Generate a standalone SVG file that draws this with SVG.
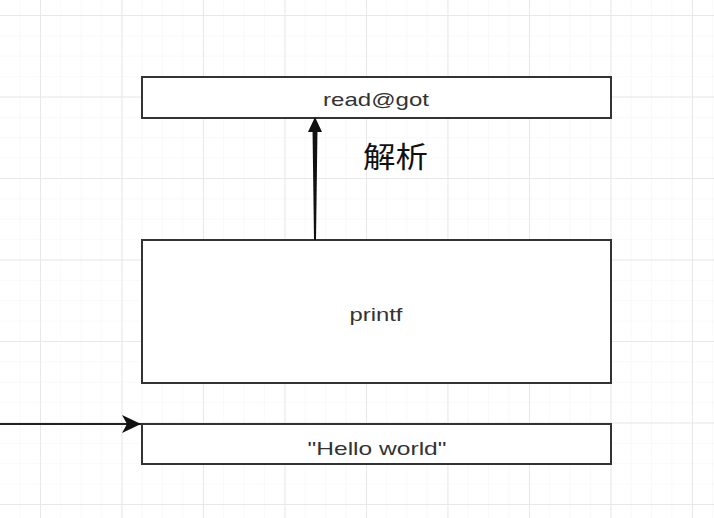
<svg xmlns="http://www.w3.org/2000/svg" width="714" height="518" viewBox="0 0 714 518">
<defs>
<pattern id="minor" x="-1" y="-5.4" width="20.375" height="20.375" patternUnits="userSpaceOnUse">
<path d="M 20.375 0 L 0 0 0 20.375" fill="none" stroke="#f3f3f3" stroke-width="1"/>
</pattern>
<pattern id="major" x="-41.5" y="-66.5" width="81.5" height="81.5" patternUnits="userSpaceOnUse">
<path d="M 81.5 0 L 0 0 0 81.5" fill="none" stroke="#e8e8e8" stroke-width="2"/>
</pattern>
<marker id="classic" viewBox="0 0 20 20" refX="19" refY="10" markerWidth="20" markerHeight="20" markerUnits="userSpaceOnUse" orient="auto">
<path d="M 0 1 L 19 10 L 0 19 L 5 10 Z" fill="#111"/>
</marker>
</defs>
<style>
.box{fill:#ffffff;stroke:#333333;stroke-width:2}
.lbl{font-family:"Liberation Sans",Arial,sans-serif;font-size:19px;fill:#333333;text-anchor:middle}
.cjk{font-family:"Noto Sans CJK SC","Liberation Sans",sans-serif;font-size:29px;fill:#111111}
</style>
<rect width="714" height="518" fill="#ffffff"/>
<rect width="714" height="518" fill="url(#minor)"/>
<rect width="714" height="518" fill="url(#major)"/>
<g id="node-readgot">
<rect class="box" x="142" y="77" width="469" height="41"/>
<text class="lbl" x="376" y="106" textLength="106" lengthAdjust="spacingAndGlyphs">read@got</text>
</g>
<g id="node-printf">
<rect class="box" x="142" y="240" width="469" height="143"/>
<text class="lbl" x="376" y="321" textLength="53" lengthAdjust="spacingAndGlyphs">printf</text>
</g>
<g id="node-hello">
<rect class="box" x="142" y="424" width="469" height="40"/>
<text class="lbl" x="377" y="455" textLength="139" lengthAdjust="spacingAndGlyphs">"Hello world"</text>
</g>
<g id="connectors">
<polygon points="314,240 316,240 317.5,128 312.5,128" fill="#111"/>
<polygon points="315,117 322,132 308,132" fill="#111"/>
<line x1="0" y1="424" x2="141" y2="424" stroke="#222" stroke-width="2" marker-end="url(#classic)"/>
</g>
<text class="cjk" x="363" y="168" textLength="65" lengthAdjust="spacingAndGlyphs">解析</text>
</svg>
